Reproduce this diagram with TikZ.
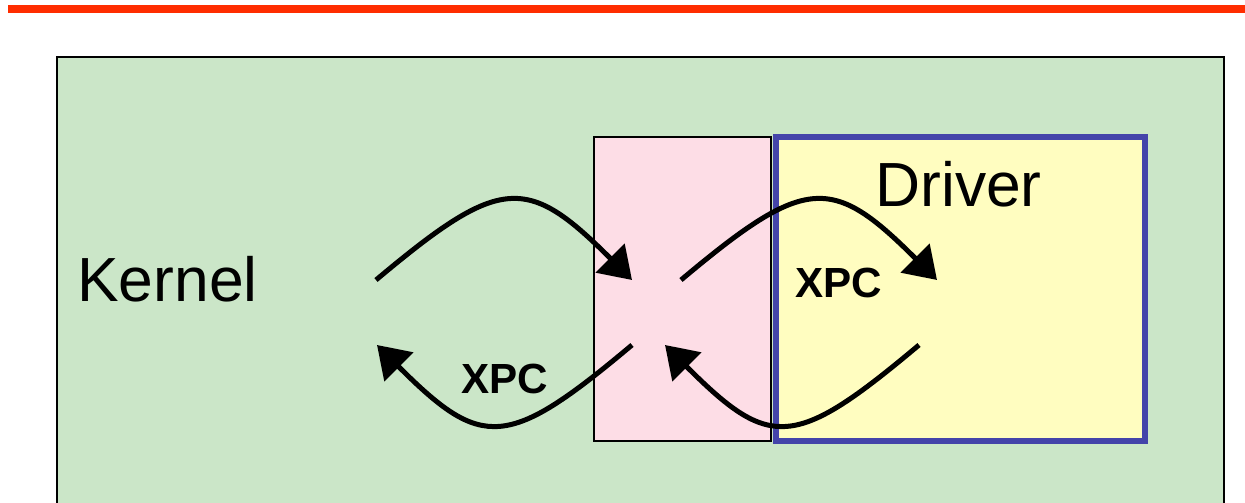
\documentclass[tikz,border=0pt]{standalone}
\usepackage{fontspec}
\setmainfont{Liberation Sans}
\usetikzlibrary{arrows.meta}
\definecolor{kernelgreen}{RGB}{203,230,200}
\definecolor{stubpink}{RGB}{253,221,230}
\definecolor{driveryellow}{RGB}{255,253,192}
\definecolor{driverblue}{RGB}{68,68,170}
\definecolor{barred}{RGB}{255,45,0}
\tikzset{
  call/.style={line width=0.1cm, -{Triangle[length=0.62cm,width=0.8cm]}},
  bigtext/.style={inner sep=0pt, anchor=base west, font=\fontsize{35.5}{40}\selectfont},
  xpc/.style={inner sep=0pt, anchor=base west, font=\fontsize{24}{28}\selectfont\bfseries}
}

\begin{document}
\begin{tikzpicture}[x=0.02cm, y=-0.02cm]
  \clip (0,0) rectangle (1245,503);
  \useasboundingbox (0,0) rectangle (1245,503);

  % title rule
  \fill[barred] (8,5) rectangle (1250,13);

  % kernel, stub and driver boxes
  \draw[line width=0.7pt, fill=kernelgreen] (57,57) rectangle (1224,530);
  \draw[line width=0.7pt, fill=stubpink] (594,137) rectangle (771,441);
  \draw[line width=0.12cm, draw=driverblue, fill=driveryellow] (776,137) rectangle (1144.5,441);

  \node[bigtext] (kernel) at (77,302) {Kernel};
  \node[bigtext] (driver) at (875,207) {Driver};

  % end points of the calls
  \coordinate (kout) at (376,280);
  \coordinate (sin)  at (632,280);
  \coordinate (sout) at (681,280);
  \coordinate (din)  at (937,280);
  \coordinate (dret) at (919,345);
  \coordinate (sret) at (665,345);
  \coordinate (sback) at (632,345);
  \coordinate (kret) at (377,345);

  \draw[call] (kout) .. controls +(125,-105) and +(-105,-105) .. (sin);
  \draw[call] (sout) .. controls +(125,-105) and +(-105,-105) .. (din);
  \draw[call] (dret) .. controls +(-125,105) and +(105,105) .. (sret);
  \draw[call] (sback) .. controls +(-125,105) and +(105,105) .. (kret);

  \node[xpc] (xpcdown) at (795,298) {XPC};
  \node[xpc] (xpcup) at (461,394) {XPC};
\end{tikzpicture}
\end{document}
